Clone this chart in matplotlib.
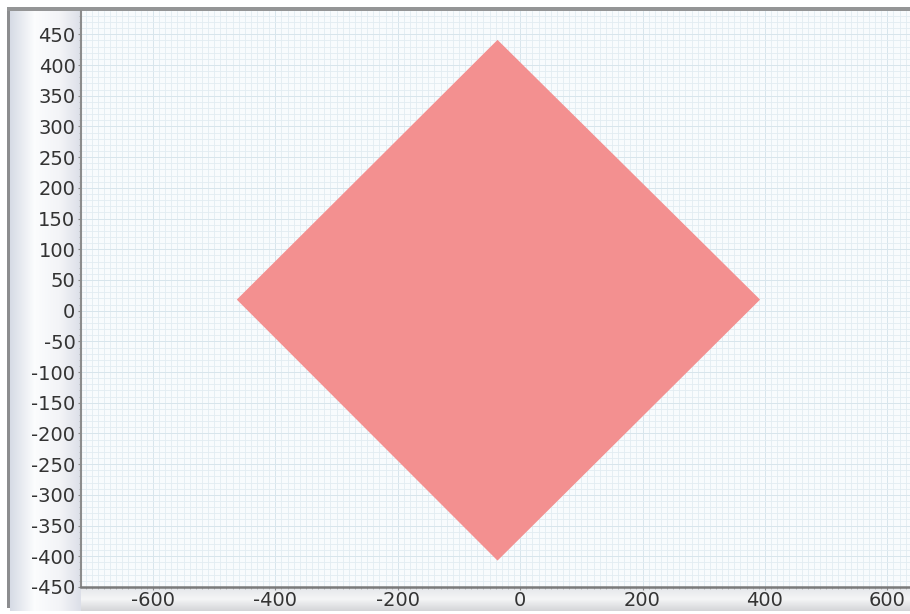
import numpy as np
import matplotlib
matplotlib.use("Agg")
import matplotlib.pyplot as plt
from matplotlib.patches import Polygon, Rectangle
from matplotlib.ticker import MultipleLocator

# square region rotated 45 degrees (vertex coordinates)
shape_x = [-37, 392, -37, -463]
shape_y = [441, 18, -407, 18]

x_ticks = [-600, -400, -200, 0, 200, 400, 600]
y_ticks = list(range(-450, 451, 50))

W, H = 910, 614
fig = plt.figure(figsize=(W / 100, H / 100), dpi=100)

# background frame drawn in pixel coordinates
bg = fig.add_axes([0, 0, 1, 1], zorder=0)
bg.set_xlim(0, W)
bg.set_ylim(H, 0)
bg.axis("off")


def blend(a, b, f):
    a = np.array(matplotlib.colors.to_rgb(a))
    b = np.array(matplotlib.colors.to_rgb(b))
    return tuple(a + (b - a) * f)


# outer border
bg.add_patch(Rectangle((7, 7), W, H - 13, facecolor="#8c8d8f", edgecolor="none"))

# left label panel: shaded at both sides, white in the middle
x0, x1 = 10, 81
for i in range(x1 - x0):
    px = x0 + i
    if px < 34:
        c = blend("#d6dbe5", "#fbfcfd", (px - x0) / 24)
    elif px < 60:
        c = blend("#fbfcfd", "#f2f3f6", (px - 34) / 26)
    else:
        c = blend("#f2f3f6", "#dcdfe8", (px - 60) / 20)
    bg.add_patch(Rectangle((px, 11), 1.05, 600, facecolor=c, edgecolor="none"))

# bottom label strip
y0, y1 = 587, 611
for j in range(y1 - y0):
    f = j / (y1 - y0 - 1)
    if f < 0.5:
        c = blend("#e4e6ea", "#f4f5f6", f / 0.5)
    else:
        c = blend("#f4f5f6", "#d4d5d8", (f - 0.5) / 0.5)
    bg.add_patch(Rectangle((81, y0 + j), W, 1.05, facecolor=c, edgecolor="none"))

bg.add_patch(Rectangle((7, 7), W, 4, facecolor="#949596", edgecolor="none"))

# plot area
ax = fig.add_axes([81 / W, (H - 587) / H, (W - 81) / W, (587 - 11) / H], zorder=2)
ax.set_facecolor("#f8fbfd")
ax.set_xlim(-717.6, 637)
ax.set_ylim(-450, 488)

ax.xaxis.set_minor_locator(MultipleLocator(10))
ax.yaxis.set_minor_locator(MultipleLocator(10))
ax.xaxis.set_major_locator(MultipleLocator(50))
ax.yaxis.set_major_locator(MultipleLocator(50))
ax.grid(which="minor", color="#e2ecf2", linewidth=0.6)
ax.grid(which="major", color="#d8e5ec", linewidth=0.7)
ax.set_axisbelow(True)

ax.add_patch(Polygon(list(zip(shape_x, shape_y)), closed=True,
                     facecolor="#f39090", edgecolor="none", zorder=3))

ax.set_xticks(x_ticks)
ax.set_xticklabels([str(v) for v in x_ticks])
ax.set_yticks(y_ticks)
ax.set_yticklabels([str(v) for v in y_ticks])
ax.xaxis.set_minor_locator(MultipleLocator(10))
ax.yaxis.set_minor_locator(MultipleLocator(10))

ax.tick_params(which="major", direction="out", length=2.5, width=0.8, color="#8a8a8a",
               labelsize=14, labelcolor="#333333", pad=1.5)
ax.tick_params(axis="x", which="major", pad=0.5)
ax.tick_params(which="minor", direction="out", length=1.5, width=0.5, color="#a0a0a0")

for side in ("top", "right"):
    ax.spines[side].set_visible(False)
ax.spines["left"].set_color("#8c8c8c")
ax.spines["left"].set_linewidth(1.5)
ax.spines["bottom"].set_color("#7a7a7a")
ax.spines["bottom"].set_linewidth(1.8)

fig.savefig("out.png", dpi=100)
